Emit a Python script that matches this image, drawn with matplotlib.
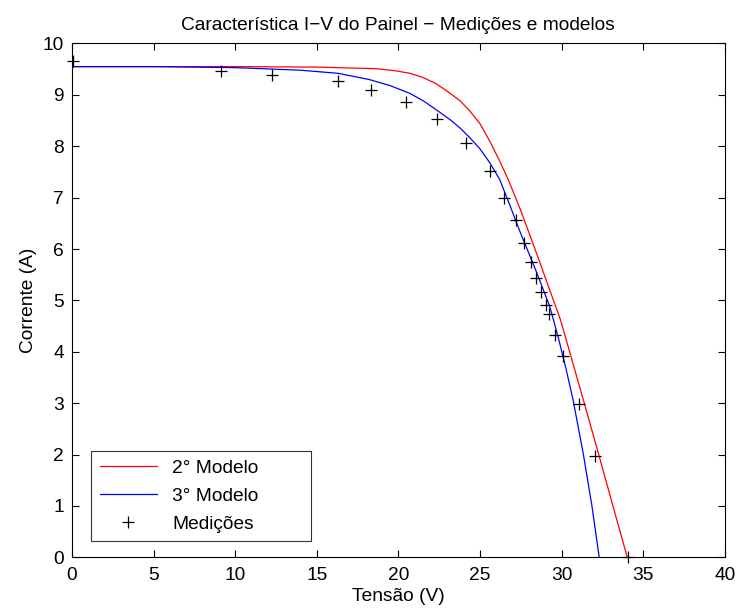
"""I-V characteristic of the panel: measurements vs. two diode models."""

import matplotlib

matplotlib.use("Agg")
import matplotlib.pyplot as plt

plt.rcParams["font.family"] = ["Liberation Sans", "DejaVu Sans"]

# 2nd model (red)
v_mod2 = [0, 5, 10, 15, 18.6, 19.8, 20.7, 21.5, 22.3, 23.0, 23.8, 24.4, 25.0,
          25.6, 26.2, 26.75, 27.5, 28.26, 29.28, 29.94, 30.65, 31.35, 32.28,
          33.15, 34.03]
i_mod2 = [9.55, 9.55, 9.55, 9.54, 9.51, 9.47, 9.42, 9.34, 9.22, 9.07, 8.88,
          8.68, 8.44, 8.10, 7.72, 7.34, 6.75, 6.10, 5.20, 4.62, 3.83, 3.05,
          2.00, 1.00, 0.0]

# 3rd model (blue)
v_mod3 = [0, 5, 10, 14, 16.3, 18.2, 19.5, 20.7, 21.6, 22.5, 23.2, 23.8, 24.4,
          25.0, 25.6, 26.2, 26.8, 27.44, 28.47, 29.28, 29.8, 30.26, 30.71,
          31.33, 31.85, 32.31]
i_mod3 = [9.55, 9.55, 9.53, 9.48, 9.42, 9.30, 9.18, 9.03, 8.87, 8.67, 8.51,
          8.35, 8.16, 7.95, 7.68, 7.36, 6.88, 6.35, 5.55, 4.88, 4.28, 3.69,
          3.06, 2.02, 1.03, 0.0]

# measurements
v_meas = [0.04, 9.12, 12.27, 16.3, 18.34, 20.45, 22.39, 24.13, 25.6, 26.48,
          27.18, 27.71, 28.1, 28.44, 28.73, 29.04, 29.24, 29.63, 30.08,
          31.06, 32.04, 34.05]
i_meas = [9.66, 9.47, 9.38, 9.27, 9.10, 8.86, 8.54, 8.07, 7.52, 7.00,
          6.56, 6.11, 5.74, 5.43, 5.16, 4.92, 4.73, 4.32, 3.92,
          2.98, 1.97, 0.0]

FS = 13.8

fig = plt.figure(figsize=(7.37, 6.10), dpi=100)
ax = fig.add_axes([0.0977, 0.0864, 0.8856, 0.8423])

ax.plot(v_mod2, i_mod2, color="#ff0000", linewidth=0.9, label="2° Modelo")
ax.plot(v_mod3, i_mod3, color="#0000ff", linewidth=0.9, label="3° Modelo")
ax.plot(v_meas, i_meas, "k+", markersize=8.5, markeredgewidth=0.9,
        label="Medições", clip_on=False)

ax.set_xlim(0, 40)
ax.set_ylim(0, 10)
ax.set_xticks(range(0, 41, 5))
ax.set_yticks(range(0, 11))
ax.tick_params(direction="in", length=5, width=0.8, labelsize=FS,
               top=True, right=True)
ax.tick_params(axis="x", pad=7)
ax.tick_params(axis="y", pad=6)
for spine in ax.spines.values():
    spine.set_linewidth(0.8)

ax.set_xlabel("Tensão (V)", fontsize=FS, labelpad=3)
ax.set_ylabel("Corrente (A)", fontsize=FS, labelpad=4)
ax.set_title("Característica I\u2212V do Painel \u2212 Medições e modelos",
             fontsize=FS, pad=10)

leg = ax.legend(loc="lower left", bbox_to_anchor=(0.029, 0.031, 0.337, 0.2),
                mode="expand", fontsize=FS, frameon=True, fancybox=False,
                borderaxespad=0.0, handlelength=3.0, handletextpad=0.8,
                labelspacing=0.55, borderpad=0.45)
leg.get_frame().set_edgecolor("black")
leg.get_frame().set_linewidth(0.8)

plt.savefig("out.png", dpi=100)
plt.close()
